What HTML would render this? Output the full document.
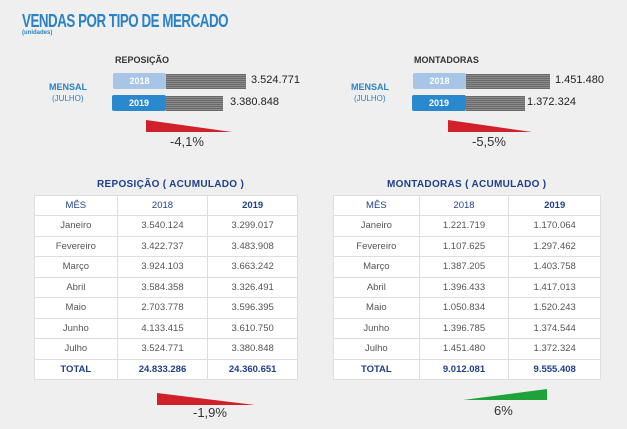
<!DOCTYPE html>
<html><head><meta charset="utf-8"><style>
*{margin:0;padding:0;box-sizing:border-box}
body{width:627px;height:429px;background:#efefef;font-family:"Liberation Sans",sans-serif;position:relative;overflow:hidden}
.a{position:absolute;white-space:nowrap}
.t{font-size:18px;font-weight:bold;color:#2a82c6;letter-spacing:-0.6px;transform:scaleX(0.74);transform-origin:left}
.box{position:absolute;height:16px;border-radius:2px;color:#fff;font-size:9px;font-weight:bold;text-align:center;line-height:16px}
.gr{position:absolute;height:15px;background:repeating-linear-gradient(0deg,#6a6a6a 0 1px,#8a8a8a 1px 2px)}
.num{font-size:11px;color:#222}
table{position:absolute;border-collapse:collapse;background:#fff;font-size:9.5px;color:#555}
td{border:1px solid #dedede;text-align:center;height:20.5px;padding:0}
tr:first-child td{color:#1f3f8a;height:20px}
tr.tot td{color:#1f3f8a;font-weight:bold}
.h{font-size:10px;font-weight:bold;color:#1f3f8a;letter-spacing:0.3px}
</style></head><body>
<div class="a t" style="left:22px;top:11px">VENDAS POR TIPO DE MERCADO</div>
<div class="a" style="left:22px;top:30px;font-size:6px;font-weight:bold;color:#2a82c6">(unidades)</div>

<div class="a" style="left:115px;top:55px;font-size:9px;color:#333;font-weight:bold">REPOSIÇÃO</div>
<div class="a" style="left:49px;top:82px;font-size:9px;font-weight:bold;color:#2a82c6">MENSAL</div>
<div class="a" style="left:52px;top:94px;font-size:8px;color:#2a82c6">(JULHO)</div>
<div class="box" style="left:113px;top:73px;width:53px;background:#a7c5e6">2018</div>
<div class="gr" style="left:166px;top:74px;width:80px"></div>
<div class="a num" style="left:251px;top:74px">3.524.771</div>
<div class="box" style="left:112px;top:95px;width:54px;background:#2a88cf">2019</div>
<div class="gr" style="left:166px;top:96px;width:57px"></div>
<div class="a num" style="left:230px;top:96px">3.380.848</div>
<svg class="a" style="left:0;top:0" width="627" height="429">
<polygon points="146,120 146,132 232,132" fill="#d0202a"/>
<polygon points="448,120 448,132 532,132" fill="#d0202a"/>
<polygon points="157,393 157,405 255,405" fill="#d0202a"/>
<polygon points="463,400 547,389 547,400" fill="#1fa23a"/>
</svg>
<div class="a" style="left:170px;top:134px;font-size:13px;color:#333">-4,1%</div>

<div class="a" style="left:414px;top:55px;font-size:9px;color:#333;font-weight:bold">MONTADORAS</div>
<div class="a" style="left:351px;top:82px;font-size:9px;font-weight:bold;color:#2a82c6">MENSAL</div>
<div class="a" style="left:354px;top:94px;font-size:8px;color:#2a82c6">(JULHO)</div>
<div class="box" style="left:413px;top:73px;width:53px;background:#a7c5e6">2018</div>
<div class="gr" style="left:466px;top:74px;width:84px"></div>
<div class="a num" style="left:555px;top:74px">1.451.480</div>
<div class="box" style="left:412px;top:95px;width:54px;background:#2a88cf">2019</div>
<div class="gr" style="left:466px;top:96px;width:59px"></div>
<div class="a num" style="left:527px;top:96px">1.372.324</div>
<div class="a" style="left:472px;top:134px;font-size:13px;color:#333">-5,5%</div>

<div class="a h" style="left:97px;top:179px">REPOSIÇÃO ( ACUMULADO )</div>
<table style="left:34px;top:195px;width:264px">
<colgroup><col style="width:83px"><col style="width:91px"><col style="width:90px"></colgroup>
<tr><td>MÊS</td><td>2018</td><td><b>2019</b></td></tr>
<tr><td>Janeiro</td><td>3.540.124</td><td>3.299.017</td></tr>
<tr><td>Fevereiro</td><td>3.422.737</td><td>3.483.908</td></tr>
<tr><td>Março</td><td>3.924.103</td><td>3.663.242</td></tr>
<tr><td>Abril</td><td>3.584.358</td><td>3.326.491</td></tr>
<tr><td>Maio</td><td>2.703.778</td><td>3.596.395</td></tr>
<tr><td>Junho</td><td>4.133.415</td><td>3.610.750</td></tr>
<tr><td>Julho</td><td>3.524.771</td><td>3.380.848</td></tr>
<tr class="tot"><td>TOTAL</td><td>24.833.286</td><td>24.360.651</td></tr>
</table>

<div class="a h" style="left:387px;top:179px">MONTADORAS ( ACUMULADO )</div>
<table style="left:333px;top:195px;width:268px">
<colgroup><col style="width:86px"><col style="width:90px"><col style="width:92px"></colgroup>
<tr><td>MÊS</td><td>2018</td><td><b>2019</b></td></tr>
<tr><td>Janeiro</td><td>1.221.719</td><td>1.170.064</td></tr>
<tr><td>Fevereiro</td><td>1.107.625</td><td>1.297.462</td></tr>
<tr><td>Março</td><td>1.387.205</td><td>1.403.758</td></tr>
<tr><td>Abril</td><td>1.396.433</td><td>1.417.013</td></tr>
<tr><td>Maio</td><td>1.050.834</td><td>1.520.243</td></tr>
<tr><td>Junho</td><td>1.396.785</td><td>1.374.544</td></tr>
<tr><td>Julho</td><td>1.451.480</td><td>1.372.324</td></tr>
<tr class="tot"><td>TOTAL</td><td>9.012.081</td><td>9.555.408</td></tr>
</table>

<div class="a" style="left:193px;top:405px;font-size:13px;color:#333">-1,9%</div>
<div class="a" style="left:494px;top:403px;font-size:13px;color:#333">6%</div>
</body></html>
